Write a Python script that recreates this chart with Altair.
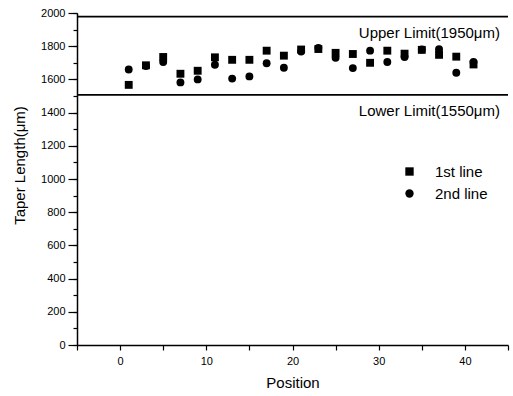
import altair as alt
import pandas as pd

positions = [1, 3, 5, 7, 9, 11, 13, 15, 17, 19, 21, 23, 25, 27, 29, 31, 33, 35, 37, 39, 41]
first_line = [1567, 1685, 1735, 1634, 1652, 1733, 1718, 1718, 1773, 1743, 1780,
              1783, 1760, 1753, 1700, 1773, 1755, 1778, 1748, 1737, 1690]
second_line = [1660, 1680, 1705, 1582, 1600, 1688, 1605, 1618, 1697, 1670, 1768,
               1790, 1730, 1668, 1773, 1705, 1735, 1780, 1782, 1640, 1705]
series_names = ["1st line", "2nd line"]
limit_values = [1978, 1507]
limit_labels = ["Upper Limit(1950μm)", "Lower Limit(1550μm)"]

df = pd.DataFrame({
    "Position": positions + positions,
    "Taper": first_line + second_line,
    "Series": [series_names[0]] * len(positions) + [series_names[1]] * len(positions),
})
lim = pd.DataFrame({"y": limit_values, "label": limit_labels})

FONT = "Liberation Sans"
xscale = alt.Scale(domain=[-5, 45], nice=False, zero=False)
yscale = alt.Scale(domain=[0, 2000], nice=False)

points = alt.Chart(df).mark_point(filled=True, size=62, opacity=1, color="black").encode(
    x=alt.X("Position:Q", scale=xscale,
            axis=alt.Axis(values=list(range(-5, 46, 5)),
                          labelExpr="datum.value % 10 == 0 ? datum.label : ''",
                          title="Position", tickSize=5, labelPadding=5,
                          titleFontSize=15, titlePadding=9)),
    y=alt.Y("Taper:Q", scale=yscale,
            axis=alt.Axis(values=list(range(0, 2001, 200)), tickSize=9, labelPadding=3,
                          format="d",
                          title="Taper Length(μm)", titleFontSize=15, titleX=-50,
                          titleY=152, titleBaseline="bottom", orient="left")),
    shape=alt.Shape("Series:N",
                    scale=alt.Scale(domain=series_names, range=["square", "circle"]),
                    legend=alt.Legend(title=None, orient="none", legendX=325, legendY=151,
                                      symbolSize=70, symbolFillColor="black",
                                      symbolStrokeColor="black", symbolStrokeWidth=0,
                                      labelFont=FONT, labelFontSize=15, labelColor="black",
                                      labelOffset=18, rowPadding=6, padding=0)),
)

rules = alt.Chart(lim).mark_rule(color="black", strokeWidth=1.6).encode(
    y=alt.Y("y:Q", scale=yscale,
            axis=alt.Axis(values=list(range(0, 2001, 100)), tickSize=4, labels=False,
                          domain=False, title=None, orient="left")),
)

texts = alt.Chart(lim).mark_text(align="right", baseline="middle", font=FONT,
                                 fontSize=15, color="black", dy=16).encode(
    x=alt.value(423),
    y=alt.Y("y:Q", scale=yscale, axis=None),
    text="label:N",
)

chart = alt.layer(points, rules, texts).resolve_axis(y="independent").properties(
    width=431, height=332,
    autosize=alt.AutoSizeParams(type="none"),
    padding={"left": 77, "top": 13, "right": 5, "bottom": 51},
).configure_view(stroke=None).configure_axis(
    labelFont=FONT, titleFont=FONT, labelFontSize=11, labelColor="black",
    titleColor="black", domainColor="black", tickColor="black", domainWidth=1.5,
    tickWidth=1.2, grid=False, titleFontWeight="normal",
)

chart.save("out.html", embed_options={"renderer": "svg", "actions": False})
